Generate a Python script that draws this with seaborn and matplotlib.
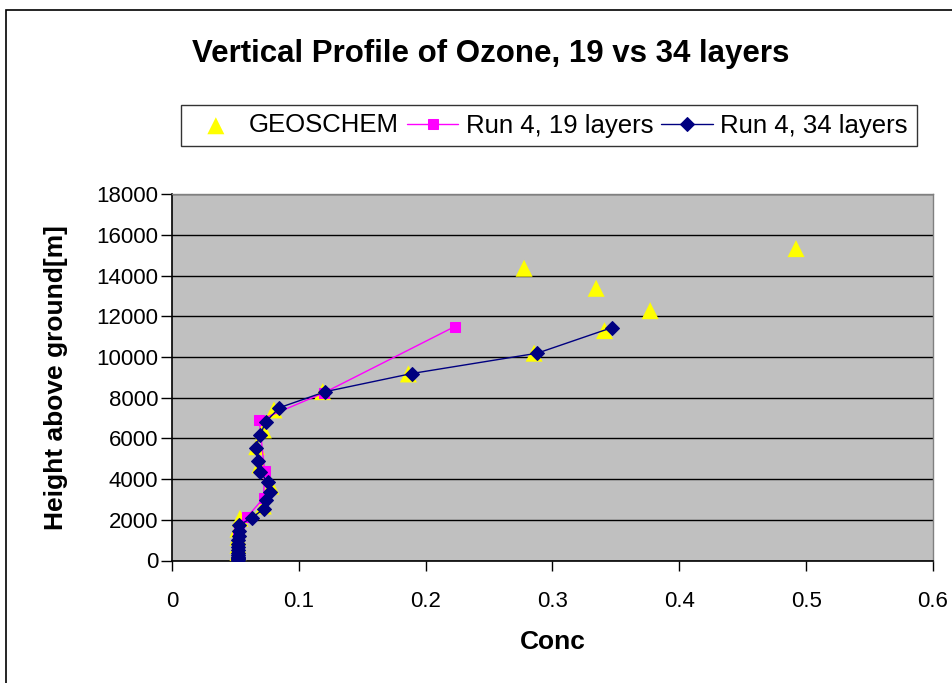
import matplotlib
matplotlib.use("Agg")
import matplotlib.pyplot as plt
import seaborn as sns
import pandas as pd
from matplotlib.patches import Rectangle

# ---- data ----
geo_conc = [0.052, 0.052, 0.052, 0.052, 0.052, 0.052, 0.0536, 0.072, 0.0779, 0.0694,
            0.0668, 0.072, 0.0804, 0.1188, 0.1864, 0.2855, 0.341, 0.377, 0.3344, 0.2776, 0.492]
geo_height = [20, 150, 400, 750, 1150, 1550, 2075, 2680, 3660, 4695,
              5595, 6420, 7400, 8300, 9170, 10190, 11300, 12280, 13380, 14366, 15330]

r19_conc = [0.052, 0.052, 0.052, 0.052, 0.052, 0.053, 0.059, 0.0722, 0.073, 0.0688, 0.120, 0.223]
r19_height = [30, 150, 400, 750, 1150, 1600, 2120, 3070, 4420, 6890, 8250, 11500]

r34_conc = [0.052, 0.052, 0.052, 0.052, 0.052, 0.052, 0.052, 0.052, 0.052, 0.0522, 0.0525,
            0.0527, 0.053, 0.0627, 0.0727, 0.074, 0.0772, 0.0754, 0.0693, 0.0677, 0.066,
            0.0693, 0.074, 0.0846, 0.121, 0.189, 0.288, 0.347]
r34_height = [15, 50, 100, 170, 260, 370, 500, 650, 820, 1010, 1220, 1460,
              1740, 2090, 2550, 2990, 3370, 3860, 4355, 4915, 5540,
              6150, 6820, 7510, 8300, 9190, 10190, 11450]

title = "Vertical Profile of Ozone, 19 vs 34 layers"
xlabel = "Conc"
ylabel = "Height above ground[m]"
xticks = [0, 0.1, 0.2, 0.3, 0.4, 0.5, 0.6]
yticks = list(range(0, 18001, 2000))

geo = pd.DataFrame({"conc": geo_conc, "height": geo_height})
r19 = pd.DataFrame({"conc": r19_conc, "height": r19_height})
r34 = pd.DataFrame({"conc": r34_conc, "height": r34_height})

sns.set_style("white")
plt.rcParams["font.family"] = ["Liberation Sans", "DejaVu Sans"]
plt.rcParams["text.color"] = "black"
plt.rcParams["axes.labelcolor"] = "black"
plt.rcParams["xtick.color"] = "black"
plt.rcParams["ytick.color"] = "black"

fig = plt.figure(figsize=(9.53, 6.83), dpi=100)
fig.patch.set_facecolor("white")
# outer chart border
fig.patches.append(Rectangle((6 / 953, -0.05), 1.2, 1 - 10 / 683 + 0.05,
                             transform=fig.transFigure, fill=False,
                             edgecolor="black", linewidth=1.2, zorder=0))

ax = fig.add_axes([172 / 953, 1 - 560.5 / 683, (933 - 172) / 953, (560.5 - 194.3) / 683])
ax.set_facecolor("#C0C0C0")

sns.scatterplot(data=geo, x="conc", y="height", ax=ax, marker="^", s=150,
                color="#FFFF00", edgecolor="none", linewidth=0, label="GEOSCHEM", zorder=3)
sns.lineplot(data=r19, x="conc", y="height", ax=ax, sort=False, estimator=None,
             color="#FF00FF", linewidth=1.0, marker="s", markersize=7,
             markeredgecolor="#FF00FF", label="Run 4, 19 layers", zorder=4)
sns.lineplot(data=r34, x="conc", y="height", ax=ax, sort=False, estimator=None,
             color="#000080", linewidth=1.0, marker="D", markersize=7,
             markeredgecolor="#000080", label="Run 4, 34 layers", zorder=5)

ax.set_xlim(0, 0.6)
ax.set_ylim(0, 18000)
ax.set_xticks(xticks)
ax.set_xticklabels(["0", "0.1", "0.2", "0.3", "0.4", "0.5", "0.6"])
ax.set_yticks(yticks)
ax.set_yticklabels([str(v) for v in yticks])
ax.yaxis.grid(True, color="black", linewidth=1.0)
ax.xaxis.grid(False)
ax.set_axisbelow(True)
ax.tick_params(axis="x", which="major", direction="out", length=7, width=1,
               color="black", labelsize=16, pad=15, bottom=True)
ax.tick_params(axis="y", which="major", direction="out", length=8, width=1,
               color="black", labelsize=16, pad=2, left=True)
for s in ["left", "bottom"]:
    ax.spines[s].set_color("black")
    ax.spines[s].set_linewidth(1.2)
for s in ["top", "right"]:
    ax.spines[s].set_color("#808080")
    ax.spines[s].set_linewidth(1.0)

ax.set_xlabel(xlabel, fontsize=19, fontweight="bold", labelpad=13)
ax.set_ylabel(ylabel, fontsize=19, fontweight="bold", labelpad=20)

ax.get_legend().remove()
handles, labels = ax.get_legend_handles_labels()
leg = fig.legend(handles, labels, loc="center", bbox_to_anchor=(549 / 953, 1 - 125.5 / 683),
                 ncol=3, frameon=True, fancybox=False, fontsize=18.5, handlelength=2.0,
                 columnspacing=0.3, handletextpad=0.3, borderpad=0.35)
leg.get_frame().set_edgecolor("black")
leg.get_frame().set_linewidth(1.0)

fig.text(491 / 953, 1 - 54 / 683, title, ha="center", va="center",
         fontsize=22.5, fontweight="bold")

fig.savefig("out.png", dpi=100)
